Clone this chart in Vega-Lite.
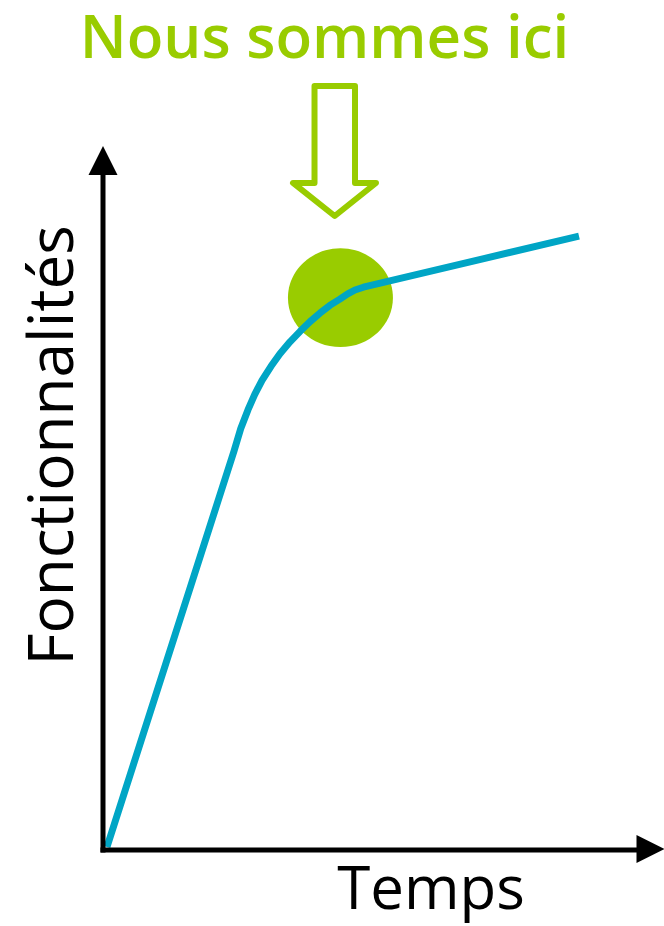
{
  "$schema": "https://vega.github.io/schema/vega-lite/v6.json",
  "width": 560,
  "height": 700,
  "autosize": {"type": "none"},
  "padding": {"left": 103, "top": 150, "right": 1, "bottom": 76},
  "background": "white",
  "config": {"view": {"stroke": null}},
  "datasets": {
    "curve": [
      {"t": 0.71, "f": 0.43},
      {"t": 23.4, "f": 57.0},
      {"t": 24.6, "f": 60.2},
      {"t": 25.9, "f": 62.9},
      {"t": 27.1, "f": 65.1},
      {"t": 28.4, "f": 67.1},
      {"t": 30.0, "f": 69.1},
      {"t": 31.6, "f": 70.9},
      {"t": 33.4, "f": 72.6},
      {"t": 35.2, "f": 74.1},
      {"t": 37.0, "f": 75.5},
      {"t": 38.75, "f": 76.7},
      {"t": 40.5, "f": 77.8},
      {"t": 42.3, "f": 78.7},
      {"t": 43.7, "f": 79.45},
      {"t": 45.0, "f": 80.0},
      {"t": 46.5, "f": 80.4},
      {"t": 85.0, "f": 87.7}
    ],
    "here": [{"t": 42.4, "f": 78.9}],
    "pointer": [
      {"i": 0, "t": 37.77, "f": 109.14},
      {"i": 1, "t": 45.0, "f": 109.14},
      {"i": 2, "t": 45.0, "f": 95.29},
      {"i": 3, "t": 48.75, "f": 95.29},
      {"i": 4, "t": 41.375, "f": 90.57},
      {"i": 5, "t": 33.93, "f": 95.29},
      {"i": 6, "t": 37.77, "f": 95.29},
      {"i": 7, "t": 37.77, "f": 109.14}
    ],
    "axes": [
      {"axis": "Temps", "t": -0.45, "t2": 95.4, "f": 0, "f2": 0},
      {"axis": "Fonctionnalités", "t": 0, "t2": 0, "f": -0.36, "f2": 96.5}
    ],
    "yhead": [{"t": 0, "f": 98.5}],
    "xhead": [{"t": 97.77, "f": 0.14}],
    "title": [{"t": 39.55, "f": 113.14, "label": "Nous sommes ici"}],
    "xlabel": [{"t": 58.57, "f": -8.43, "label": "Temps"}],
    "ylabel": [{"t": -5.36, "f": 57.8, "label": "Fonctionnalités"}]
  },
  "encoding": {
    "x": {"field": "t", "type": "quantitative", "scale": {"domain": [0, 100], "nice": false, "zero": false}, "axis": null},
    "y": {"field": "f", "type": "quantitative", "scale": {"domain": [0, 100], "nice": false, "zero": false}, "axis": null}
  },
  "layer": [
    {
      "data": {"name": "here"},
      "mark": {"type": "point", "shape": "M -1 0 A 1 0.94 0 1 0 1 0 A 1 0.94 0 1 0 -1 0 Z", "size": 11025, "filled": true, "color": "#99CC00", "opacity": 1, "strokeWidth": 0}
    },
    {
      "data": {"name": "curve"},
      "mark": {"type": "line", "interpolate": "linear", "color": "#00A5C5", "strokeWidth": 7, "strokeCap": "butt", "strokeJoin": "round"}
    },
    {
      "data": {"name": "pointer"},
      "mark": {"type": "line", "color": "#99CC00", "strokeWidth": 6, "strokeJoin": "round", "strokeCap": "round"},
      "encoding": {"order": {"field": "i", "type": "quantitative"}}
    },
    {
      "data": {"name": "axes"},
      "mark": {"type": "rule", "color": "black", "strokeWidth": 5},
      "encoding": {
        "x2": {"field": "t2"},
        "y2": {"field": "f2"}
      }
    },
    {
      "data": {"name": "yhead"},
      "mark": {"type": "point", "shape": "M 0 -1 L 1 1 L -1 1 Z", "size": 841, "filled": true, "color": "black", "opacity": 1, "strokeWidth": 0}
    },
    {
      "data": {"name": "xhead"},
      "mark": {"type": "point", "shape": "M 1 0 L -1 -1 L -1 1 Z", "size": 784, "filled": true, "color": "black", "opacity": 1, "strokeWidth": 0}
    },
    {
      "data": {"name": "title"},
      "mark": {"type": "text", "font": "Open Sans", "fontWeight": 600, "fontSize": 60, "color": "#99CC00", "align": "center", "baseline": "alphabetic"},
      "encoding": {"text": {"field": "label"}}
    },
    {
      "data": {"name": "xlabel"},
      "mark": {"type": "text", "font": "Open Sans", "fontSize": 60, "color": "black", "align": "center", "baseline": "alphabetic"},
      "encoding": {"text": {"field": "label"}}
    },
    {
      "data": {"name": "ylabel"},
      "mark": {"type": "text", "font": "Open Sans", "fontSize": 62, "color": "black", "align": "center", "baseline": "alphabetic", "angle": 270},
      "encoding": {"text": {"field": "label"}}
    }
  ]
}
